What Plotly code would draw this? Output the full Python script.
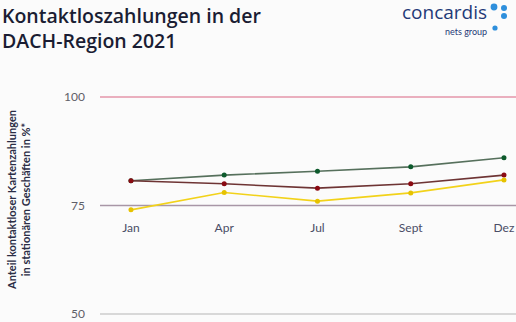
import plotly.graph_objects as go

months = ["Jan", "Apr", "Jul", "Sept", "Dez"]
green_vals = [80.7, 82.0, 82.9, 83.9, 86.0]
red_vals = [80.7, 80.0, 79.0, 80.0, 82.0]
yellow_vals = [74.0, 78.0, 76.0, 77.9, 80.9]
y_ticks = [50, 75, 100]
grid_colors = ["#cdcdcd", "#a896a6", "#e596aa"]

series = [
    ("green", green_vals, "#56705c", "#0d5a2c"),
    ("red", red_vals, "#6e3434", "#8a0a12"),
    ("yellow", yellow_vals, "#f2d21a", "#e6c200"),
]

L, T, B = 100, 93, 318
W, H = 516 - L, B - T


def px(x):
    return (x - L) / W


def py(y):
    return (B - y) / H


fig = go.Figure()
xs = list(range(len(months)))
for name, vals, lc, mc in series:
    fig.add_trace(go.Scatter(
        x=xs, y=vals, mode="lines+markers", name=name,
        line=dict(color=lc, width=1.6),
        marker=dict(color=mc, size=5),
        showlegend=False,
    ))

for v, c in zip(y_ticks, grid_colors):
    fig.add_shape(type="line", xref="paper", yref="y", x0=0, x1=1, y0=v, y1=v,
                  line=dict(color=c, width=1.4), layer="below")

fig.update_layout(
    width=516, height=322,
    margin=dict(l=L, r=0, t=T, b=322 - B),
    paper_bgcolor="#fbfbfb", plot_bgcolor="rgba(0,0,0,0)",
    font=dict(family="Lato, sans-serif"),
    xaxis=dict(
        tickmode="array", tickvals=xs, ticktext=months,
        range=[-0.332, 4.129], showgrid=False, zeroline=False,
        showline=False, ticks="", anchor="free", position=py(219),
        tickfont=dict(size=12, color="#4a4d66"),
    ),
    yaxis=dict(
        range=[50 - 4 / 4.34, 100 + 4 / 4.34], tickvals=y_ticks, showgrid=False, zeroline=False,
        showline=False, ticks="", ticklabelstandoff=14,
        tickfont=dict(size=12, color="#5f6068"),
    ),
    annotations=[
        dict(text="Kontaktloszahlungen in der<br>DACH-Region 2021", xref="paper", yref="paper",
             x=px(0), y=py(0), xanchor="left", yanchor="top", align="left",
             showarrow=False,
             font=dict(family="Open Sans, sans-serif", size=19.5, weight=600, color="#1a1d33")),
        dict(text="<b>Anteil kontaktloser Kartenzahlungen<br>in stationären Geschäften in %*</b>",
             xref="paper", yref="paper", x=px(18), y=py(200),
             xanchor="center", yanchor="middle", textangle=-90, showarrow=False,
             font=dict(size=11, color="#2b2d45")),
        dict(text="concardis", xref="paper", yref="paper", x=px(489), y=py(12),
             xanchor="right", yanchor="middle", showarrow=False,
             font=dict(family="Open Sans, sans-serif", size=19, color="#1f3a78")),
        dict(text="nets group", xref="paper", yref="paper", x=px(489), y=py(31),
             xanchor="right", yanchor="middle", showarrow=False,
             font=dict(size=9, color="#1f3a78")),
    ],
)

for cx, cy, r in [(494, 7, 3.4), (504, 8, 3.0), (504, 16, 3.0), (495, 28, 2.6)]:
    fig.add_shape(type="circle", xref="paper", yref="paper",
                  x0=px(cx - r), x1=px(cx + r),
                  y0=py(cy + r), y1=py(cy - r),
                  fillcolor="#2e8fdc", line=dict(width=0))

fig.write_html("out.html")
